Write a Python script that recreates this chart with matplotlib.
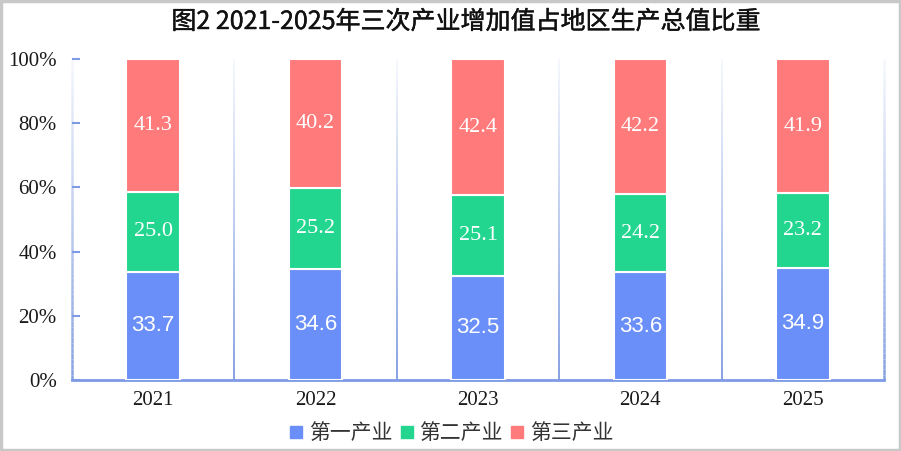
import matplotlib
matplotlib.use("Agg")
import matplotlib.pyplot as plt
import matplotlib.patheffects as pe
import numpy as np
from matplotlib.patches import Rectangle
from matplotlib.lines import Line2D
from matplotlib.collections import LineCollection

plt.rcParams['font.family'] = ['Noto Sans CJK SC', 'DejaVu Sans']

years = ['2021', '2022', '2023', '2024', '2025']
primary = [33.7, 34.6, 32.5, 33.6, 34.9]
secondary = [25.0, 25.2, 25.1, 24.2, 23.2]
tertiary = [41.3, 40.2, 42.4, 42.2, 41.9]
series_names = ['第一产业', '第二产业', '第三产业']
colors = ['#6b8ff8', '#22d68f', '#ff7b7b']
yticks = [0, 20, 40, 60, 80, 100]
ytick_labels = ['0%', '20%', '40%', '60%', '80%', '100%']
title = '图2 2021-2025年三次产业增加值占地区生产总值比重'

W, H = 901, 451
fig = plt.figure(figsize=(W / 100, H / 100), dpi=100)
ax = fig.add_axes([72 / W, 1 - 380 / H, (884 - 72) / W, (380 - 59) / H])

x = np.arange(len(years))
width = 0.33
bottoms = np.zeros(len(years))
label_fonts = ['Liberation Sans', 'Liberation Serif', 'Liberation Serif']
for vals, c, fam in zip([primary, secondary, tertiary], colors, label_fonts):
    vals = np.array(vals)
    ax.bar(x, vals, width, bottom=bottoms, color=c, edgecolor='white',
           linewidth=1.5, zorder=3)
    for xi, b, v in zip(x, bottoms, vals):
        ax.text(xi, b + v / 2, f'{v:.1f}', ha='center', va='center',
                color='white', fontsize=16, family=fam, zorder=4)
    bottoms = bottoms + vals

ax.set_xlim(-0.5, len(years) - 0.5)
ax.set_ylim(0, 100)
ax.set_yticks(yticks)
ax.set_yticklabels(ytick_labels, family='Liberation Serif', fontsize=15, color='#1a1a1a')
ax.set_xticks(x)
ax.set_xticklabels(years, family='Liberation Serif', fontsize=15, color='#1a1a1a')
ax.tick_params(axis='x', length=0, pad=8)
ax.tick_params(axis='y', direction='in', length=6, width=1.5, color='#7f9be6', pad=11)
for s in ['top', 'right', 'left']:
    ax.spines[s].set_visible(False)
ax.spines['bottom'].set_color('#7f9be6')
ax.spines['bottom'].set_linewidth(2)

# gradient vertical separators (left spine, category boundaries, right edge)
n = 60
ys = np.linspace(0, 100, n + 1)
for bx in np.arange(-0.5, len(years) + 0.5, 1.0):
    segs = [[(bx, ys[i]), (bx, ys[i + 1])] for i in range(n)]
    alphas = np.linspace(0.95, 0.08, n)
    cols = [(0.50, 0.61, 0.88, a) for a in alphas]
    lw = 1.8 if bx in (-0.5, len(years) - 0.5) else 1.4
    lc = LineCollection(segs, colors=cols, linewidths=lw, zorder=2, clip_on=False)
    ax.add_collection(lc)

fig.text(466 / W, 1 - 22 / H, title, ha='center', va='center', fontsize=18,
         color='#111111',
         path_effects=[pe.withStroke(linewidth=0.3, foreground='#111111')])

handles = [Line2D([], [], marker='s', linestyle='none', markersize=8,
                  markerfacecolor=c, markeredgecolor=c) for c in colors]
fig.legend(handles, series_names, loc='center', bbox_to_anchor=(0.5, 1 - 433 / H),
           ncol=3, frameon=False, fontsize=15, handletextpad=0.2, columnspacing=0.3,
           handlelength=0.8, labelcolor='#333333')

fig.add_artist(Rectangle((0.0015, 0.003), 0.997, 0.994, transform=fig.transFigure,
                         fill=False, edgecolor='#c8c8c8', linewidth=2.5))

fig.savefig('out.png', dpi=100)
